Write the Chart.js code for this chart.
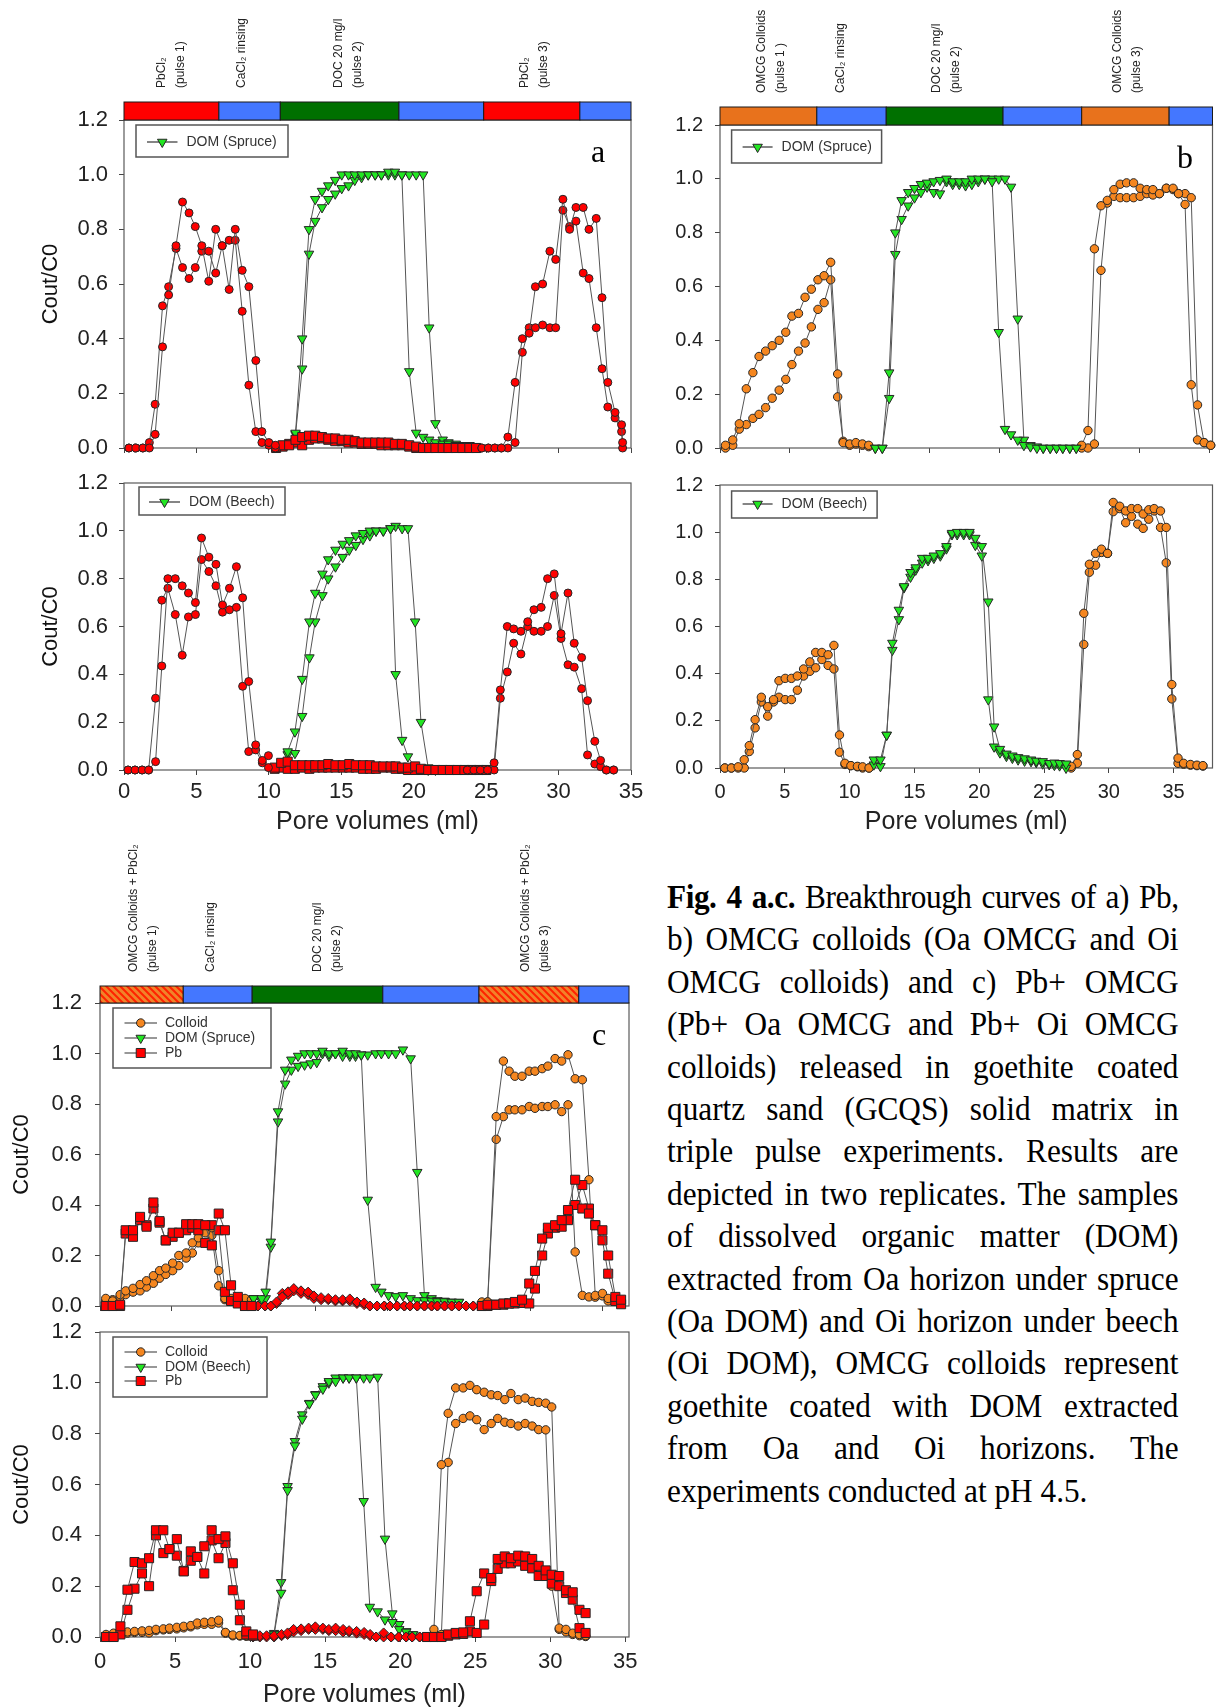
<!DOCTYPE html>
<html>
<head>
<meta charset="utf-8">
<script src="https://cdn.jsdelivr.net/npm/chart.js@4.4.0/dist/chart.umd.min.js"></script>
<style>
  html, body { margin: 0; padding: 0; background: #fff; }
  #page { position: relative; width: 1219px; height: 1708px; overflow: hidden; }
  canvas { position: absolute; }
  .tag { position: absolute; font-family: "Liberation Serif", "Times New Roman", serif; font-size: 32px; line-height: 32px; color: #000; }
  #caption { position: absolute; left: 667px; top: 876px; width: 556px; font-family: "Liberation Serif", "Times New Roman", serif;
             font-size: 34px; line-height: 42.4px; color: #000; transform: scaleX(0.92); transform-origin: 0 0; }
  #caption div { text-align: justify; text-align-last: justify; }
  #caption div.first { letter-spacing: -0.5px; white-space: nowrap; }
  #caption div.last { text-align-last: left; }
</style>
</head>
<body>
<div id="page">
  <canvas id="aTop"></canvas>
  <canvas id="aBot"></canvas>
  <canvas id="bTop"></canvas>
  <canvas id="bBot"></canvas>
  <canvas id="cTop"></canvas>
  <canvas id="cBot"></canvas>

  <div class="tag" style="left:591px;top:135px">a</div>
  <div class="tag" style="left:1177px;top:141px">b</div>
  <div class="tag" style="left:592px;top:1018px">c</div>

  <div id="caption">
    <div class="first"><b>Fig. 4 a.c.</b> Breakthrough curves of a) Pb,</div>
    <div>b) OMCG colloids (Oa OMCG and Oi</div>
    <div>OMCG colloids) and c) Pb+ OMCG</div>
    <div>(Pb+ Oa OMCG and Pb+ Oi OMCG</div>
    <div>colloids) released in goethite coated</div>
    <div>quartz sand (GCQS) solid matrix in</div>
    <div>triple pulse experiments. Results are</div>
    <div>depicted in two replicates. The samples</div>
    <div>of dissolved organic matter (DOM)</div>
    <div>extracted from Oa horizon under spruce</div>
    <div>(Oa DOM) and Oi horizon under beech</div>
    <div>(Oi DOM), OMCG colloids represent</div>
    <div>goethite coated with DOM extracted</div>
    <div>from Oa and Oi horizons. The</div>
    <div class="last">experiments conducted at pH 4.5.</div>
  </div>
</div>

<script>
// ---------- tick labels ----------
const xTicks = [0, 5, 10, 15, 20, 25, 30, 35];
const yTicks = [0, 0.2, 0.4, 0.6, 0.8, 1.0, 1.2];

// ---------- pulse sequence bars (pore volume limits) ----------
const phaseA = [0, 6.55, 10.79, 18.98, 24.83, 31.47, 35];
const phaseB = [0, 6.92, 11.88, 20.23, 25.85, 32.1, 35.2];
const phaseC = [0, 5.8, 10.6, 19.7, 26.4, 33.35, 36.85];
const kindsA = ['pb', 'rinse', 'doc', 'rinse', 'pb', 'rinse'];
const kindsB = ['col', 'rinse', 'doc', 'rinse', 'col', 'rinse'];
const kindsC = ['mix', 'rinse', 'doc', 'rinse', 'mix', 'rinse'];
const phaseLabelsA = [
  { x: 3.26, text: ['PbCl₂', '(pulse 1)'] },
  { x: 8.14, text: ['CaCl₂ rinsing'] },
  { x: 15.5, text: ['DOC 20 mg/l', '(pulse 2)'] },
  { x: 28.35, text: ['PbCl₂', '(pulse 3)'] }
];
const phaseLabelsB = [
  { x: 3.63, text: ['OMCG Colloids', '(pulse 1 )'] },
  { x: 8.64, text: ['CaCl₂ rinsing'] },
  { x: 16.15, text: ['DOC 20 mg/l', '(pulse 2)'] },
  { x: 29.08, text: ['OMCG Colloids', '(pulse 3)'] }
];
const phaseLabelsC = [
  { x: 3.0, text: ['OMCG Colloids + PbCl₂', '(pulse 1)'] },
  { x: 7.74, text: ['CaCl₂ rinsing'] },
  { x: 15.8, text: ['DOC 20 mg/l', '(pulse 2)'] },
  { x: 30.3, text: ['OMCG Colloids + PbCl₂', '(pulse 3)'] }
];

// ---------- a) Pb, DOM spruce ----------
const aTopPbX1 = [0.34,0.82,1.30,1.75,2.15,2.66,3.08,3.59,4.04,4.49,4.92,5.37,5.85,6.33,6.78,7.26,7.68,8.16,8.62,9.10,9.52,10.0,10.45];
const aTopPb1a = [0,0,0,0,0.05,0.37,0.56,0.74,0.90,0.86,0.81,0.74,0.61,0.80,0.74,0.58,0.80,0.65,0.59,0.32,0.06,0.02,0.01];
const aTopPb1b = [0,0,0,0.02,0.16,0.52,0.59,0.73,0.66,0.62,0.66,0.72,0.72,0.64,0.74,0.76,0.76,0.50,0.23,0.06,0.02,0.01,0];
const aTopPbX3 = [24.7,25.15,25.6,26.05,26.5,27.0,27.5,27.97,28.4,28.9,29.4,29.8,30.3,30.76,31.2,31.7,32.1,32.6,33.0,33.4,33.9,34.35,34.42];
const aTopPb3a = [0,0,0,0,0.04,0.24,0.40,0.42,0.59,0.60,0.72,0.69,0.91,0.80,0.88,0.88,0.80,0.84,0.55,0.24,0.13,0.085,0.02];
const aTopPb3b = [0,0,0,0,0,0.02,0.35,0.44,0.44,0.45,0.44,0.44,0.87,0.81,0.83,0.64,0.62,0.44,0.29,0.15,0.11,0.06,0];
const aTopSqX = [10.5,10.95,11.4,11.84,12.3,12.77,13.2,13.67,14.1,14.58,15.03,15.5,15.93,16.4,16.86,17.34,17.77,18.25,18.7,19.18,19.69,20.17,20.65,21.07,21.5,22.0,22.4,22.9,23.36,23.84,24.3];
const aTopSqA = [0.005,0.01,0.01,0.03,0.04,0.045,0.045,0.04,0.035,0.035,0.03,0.03,0.025,0.02,0.02,0.02,0.02,0.02,0.015,0.015,0.01,0.005,0,0,0,0,0,0,0,0,0];
const aTopSqB = [0,0.005,0.015,0.02,0.01,0.03,0.035,0.035,0.03,0.025,0.025,0.02,0.02,0.015,0.015,0.015,0.01,0.01,0.01,0.01,0.005,0,0,0,0,0,0,0,0,0,0];
const aTopDomX = [11.84,12.3,12.77,13.2,13.67,14.1,14.58,15.03,15.5,15.93,16.4,16.86,17.34,17.77,18.25,18.7,19.18,19.69,20.17,20.65,21.07,21.5,22.0,22.4,22.9,23.36,23.84];
const aTopDomA = [0.055,0.40,0.80,0.91,0.94,0.96,0.98,1.0,1.0,1.0,1.0,1.0,1.0,1.0,1.01,1.01,1.0,0.28,0.055,0.04,0.03,0.02,0.015,0.015,0.01,0.01,0.01];
const aTopDomB = [0.05,0.29,0.71,0.83,0.88,0.91,0.93,0.95,0.96,0.98,0.99,1.0,1.0,1.0,1.0,1.0,1.0,1.0,1.0,1.0,0.44,0.09,0.03,0.02,0.015,0.01,0.01];

// ---------- a) Pb, DOM beech ----------
const aBotPbX1 = [0.28,0.76,1.25,1.70,2.18,2.61,3.03,3.54,4.02,4.45,4.93,5.35,5.86,6.35,6.80,7.28,7.76,8.19,8.61,9.09,9.55,9.97];
const aBotPb1a = [0,0,0,0,0.035,0.435,0.80,0.80,0.77,0.74,0.70,0.97,0.89,0.86,0.69,0.76,0.85,0.72,0.37,0.105,0.04,0.06];
const aBotPb1b = [0,0,0,0,0.30,0.71,0.76,0.65,0.48,0.64,0.65,0.88,0.83,0.77,0.66,0.67,0.68,0.35,0.077,0.084,0.03,0.01];
const aBotSqX = [10.4,10.85,11.3,11.8,12.3,12.8,13.2,13.7,14.1,14.6,15.1,15.55,16.0,16.5,16.97,17.4,17.9,18.4,18.75,19.2,19.6,20.1,20.5,21.0,21.5,22.0,22.5,23.0,23.5,24.0,24.5,25.0];
const aBotSqA = [0.01,0.03,0.035,0.02,0.02,0.02,0.02,0.02,0.025,0.02,0.02,0.025,0.02,0.02,0.02,0.015,0.015,0.015,0.015,0.01,0.01,0.015,0.005,0,0,0,0,0,0,0,0,0];
const aBotSqB = [0.005,0.01,0.005,0.005,0.01,0.005,0.01,0.01,0.01,0.01,0.01,0.01,0.01,0.005,0.005,0.005,0.01,0.01,0.005,0.005,0,0,0,0,0,0,0,0,0,0,0,0];
const aBotPbX3 = [23.7,24.15,24.6,25.1,25.55,25.98,26.46,26.9,27.4,27.87,28.3,28.8,29.24,29.7,30.17,30.65,31.08,31.59,32.0,32.5,32.9,33.3,33.8];
const aBotPb3a = [0,0,0,0,0.03,0.335,0.60,0.59,0.58,0.62,0.67,0.68,0.80,0.82,0.57,0.74,0.53,0.47,0.29,0.12,0.04,0,0];
const aBotPb3b = [0,0,0,0,0,0.30,0.41,0.53,0.485,0.60,0.58,0.58,0.60,0.73,0.55,0.44,0.43,0.34,0.063,0.025,0.014,0,0];
const aBotDomX = [11.3,11.8,12.3,12.8,13.2,13.7,14.1,14.6,15.1,15.55,16.0,16.5,16.97,17.4,17.9,18.4,18.75,19.2,19.6,20.1,20.5,21.0,21.5];
const aBotDomA = [0.077,0.16,0.38,0.62,0.74,0.82,0.88,0.92,0.945,0.96,0.98,0.99,1.0,1.0,1.0,1.01,0.40,0.125,0.056,0.01,0.005,0,0];
const aBotDomB = [0.065,0.07,0.225,0.47,0.62,0.73,0.80,0.85,0.89,0.92,0.94,0.965,0.98,1.0,1.0,1.01,1.02,1.01,1.01,0.62,0.20,0.01,0.005];

// ---------- b) OMCG colloids, DOM spruce ----------
const bTopColX1 = [0.39,0.91,1.38,1.88,2.35,2.79,3.26,3.73,4.23,4.70,5.14,5.61,6.08,6.53,7.0,7.44,7.91,8.41,8.80,9.27,9.71,10.18,10.63];
const bTopCol1a = [0.01,0.03,0.09,0.22,0.28,0.34,0.36,0.38,0.40,0.43,0.49,0.50,0.56,0.59,0.625,0.64,0.69,0.275,0.02,0.015,0.02,0.015,0.01];
const bTopCol1b = [0,0.01,0.07,0.087,0.11,0.125,0.15,0.185,0.215,0.255,0.31,0.36,0.39,0.45,0.515,0.54,0.625,0.19,0.025,0.01,0.015,0.01,0.005];
const bTopDomX = [11.1,11.6,12.09,12.53,12.98,13.45,13.9,14.36,14.8,15.27,15.72,16.19,16.63,17.1,17.55,18.0,18.46,18.93,19.45,19.92,20.37,20.8,21.28,21.72,22.19,22.65,23.1,23.6,24.05,24.5,25.0,25.46];
const bTopDomA = [0,0,0.28,0.80,0.92,0.95,0.965,0.98,0.985,0.99,0.995,1.0,0.99,0.99,0.99,1.0,1.0,1.0,0.99,0.43,0.07,0.05,0.03,0.01,0.005,0,0,0,0,0,0,0];
const bTopDomB = [0,0,0.185,0.72,0.85,0.90,0.93,0.95,0.97,0.95,0.945,0.99,0.98,0.98,0.975,0.98,0.99,1.0,1.0,1.0,1.0,0.97,0.48,0.03,0.01,0.005,0,0,0,0,0,0];
const bTopColX3 = [25.85,26.3,26.76,27.23,27.68,28.15,28.6,29.06,29.56,30.03,30.5,30.94,31.41,31.9,32.38,32.77,33.24,33.68,34.13,34.6,35.07];
const bTopCol3a = [0.01,0.065,0.74,0.90,0.92,0.96,0.98,0.985,0.985,0.965,0.96,0.96,0.945,0.965,0.965,0.945,0.905,0.235,0.03,0.02,0.01];
const bTopCol3b = [0,0,0.015,0.66,0.91,0.935,0.93,0.93,0.93,0.935,0.945,0.94,0.945,0.965,0.96,0.945,0.945,0.93,0.16,0.02,0.01];

// ---------- b) OMCG colloids, DOM beech ----------
const bBotColX1 = [0.37,0.88,1.4,1.87,2.26,2.71,3.19,3.68,4.13,4.55,5.03,5.51,5.97,6.45,6.93,7.38,7.86,8.34,8.79,9.22,9.64,10.1,10.6,11.0,11.5];
const bBotCol1a = [0,0,0.005,0.035,0.095,0.205,0.30,0.26,0.29,0.37,0.38,0.38,0.39,0.42,0.45,0.49,0.49,0.48,0.52,0.14,0.02,0.01,0.007,0.005,0];
const bBotCol1b = [0,0,0,0,0.07,0.17,0.28,0.22,0.28,0.30,0.29,0.29,0.33,0.39,0.41,0.425,0.46,0.435,0.42,0.067,0.015,0.01,0.005,0,0];
const bBotDomX = [11.87,12.38,12.86,13.3,13.8,14.2,14.7,15.1,15.6,16.05,16.5,17.0,17.47,17.9,18.3,18.8,19.25,19.7,20.2,20.7,21.15,21.6,22.1,22.56,23.0,23.5,24.0,24.4,24.9,25.4,25.8,26.2,26.7];
const bBotDomA = [0.035,0.035,0.14,0.53,0.67,0.77,0.83,0.85,0.89,0.89,0.90,0.91,0.94,0.996,1.0,1.0,1.0,0.975,0.94,0.705,0.175,0.08,0.06,0.052,0.045,0.04,0.035,0.03,0.028,0.02,0.022,0.02,0.018];
const bBotDomB = [0.014,0.007,0.14,0.50,0.63,0.765,0.81,0.84,0.87,0.88,0.89,0.90,0.93,0.99,0.99,0.99,0.99,0.945,0.90,0.29,0.09,0.065,0.05,0.042,0.035,0.03,0.028,0.024,0.018,0.015,0.012,0.01,0];
const bBotColX3 = [27.1,27.57,28.07,28.5,28.98,29.43,29.9,30.34,30.84,31.3,31.75,32.23,32.65,33.08,33.5,33.99,34.43,34.86,35.34,35.77,36.3,36.8,37.26];
const bBotCol3a = [0.007,0.057,0.656,0.864,0.91,0.928,0.91,1.126,1.11,1.09,1.10,1.10,1.077,1.095,1.10,1.09,1.02,0.354,0.042,0.02,0.015,0.012,0.01];
const bBotCol3b = [0,0.02,0.524,0.83,0.86,0.914,0.91,1.087,1.10,1.04,1.067,1.034,1.016,1.055,1.09,1.02,0.87,0.293,0.02,0.016,0.012,0.01,0.008];

// ---------- c) Pb + OMCG, DOM spruce ----------
const cTopX1 = [0.4,0.88,1.4,1.79,2.3,2.79,3.24,3.72,4.15,4.58,5.06,5.49,6.0,6.43,6.85,7.33,7.79,8.27,8.7,9.13,9.6,10.1,10.55];
const cTopPb1a = [0,0,0.005,0.30,0.30,0.353,0.314,0.41,0.336,0.26,0.29,0.29,0.324,0.324,0.324,0.32,0.24,0.366,0.30,0.082,0.036,0,0];
const cTopPb1b = [0,0,0,0.287,0.274,0.34,0.32,0.386,0.33,0.26,0.274,0.29,0.30,0.31,0.30,0.25,0.32,0.30,0.056,0.02,0.01,0,0];
const cTopCol1a = [0.03,0.02,0.045,0.06,0.07,0.085,0.10,0.12,0.14,0.15,0.17,0.20,0.21,0.25,0.27,0.29,0.31,0.14,0.03,0.03,0.03,0.03,0.025];
const cTopCol1b = [0.02,0.025,0.035,0.045,0.055,0.06,0.075,0.09,0.11,0.125,0.14,0.16,0.19,0.21,0.25,0.25,0.28,0.08,0.025,0.025,0.025,0.02,0.015];
const cTopDiaX = [10.1,10.55,11.0,11.5,11.9,12.3,12.7,13.1,13.5,14.0,14.5,14.9,15.4,15.9,16.4,16.9,17.4,17.9,18.4,18.8,19.3,19.8,20.2,20.7,21.2,21.6,22.1,22.6,23.1,23.5,24.0,24.5,25.0,25.5,26.0];
const cTopDiaA = [0,0,0,0,0,0.016,0.036,0.056,0.069,0.06,0.055,0.04,0.033,0.03,0.025,0.025,0.028,0.016,0.012,0,0,0,0,0,0,0,0,0,0,0,0,0,0,0,0];
const cTopDiaB = [0,0,0,0,0,0.01,0.05,0.045,0.06,0.05,0.045,0.03,0.025,0.025,0.02,0.02,0.02,0.01,0.005,0,0,0,0,0,0,0,0,0,0,0,0,0,0,0,0];
const cTopDomX = [10.7,11.26,11.54,11.9,12.4,12.9,13.33,13.8,14.25,14.67,15.1,15.5,15.95,16.4,16.9,17.4,17.8,18.2,18.65,19.2,19.6,20.1,20.6,21.1,21.64,22.1,22.6,23.1,23.5,24.0,24.5,25.0];
const cTopDomA = [0.03,0.03,0.056,0.254,0.77,0.935,0.975,0.99,1.0,1.0,1.0,1.01,1.0,1.0,1.01,1.0,1.0,0.995,0.42,0.075,0.056,0.042,0.038,0.042,0.03,0.022,0.022,0.02,0.018,0.018,0.016,0.016];
const cTopDomB = [0.03,0.02,0.03,0.234,0.73,0.88,0.935,0.95,0.955,0.96,0.965,1.0,0.99,1.0,0.99,0.99,0.99,0.995,0.995,1.0,1.0,1.0,1.0,1.015,0.98,0.53,0.042,0.03,0.022,0.02,0.016,0.015];
const cTopX3 = [26.6,27.0,27.6,28.1,28.5,28.9,29.4,29.9,30.3,30.8,31.2,31.7,32.16,32.6,33.1,33.6,34.06,34.5,35.0,35.4,35.9,36.3];
const cTopPb3a = [0,0.005,0.005,0.01,0.01,0.016,0.025,0.089,0.139,0.267,0.31,0.32,0.34,0.38,0.5,0.386,0.366,0.32,0.30,0.20,0.036,0.025];
const cTopPb3b = [0,0,0.005,0.005,0.01,0.01,0.012,0.01,0.069,0.20,0.287,0.31,0.314,0.34,0.40,0.479,0.386,0.32,0.26,0.128,0.02,0.007];
const cTopCol3a = [0.016,0.016,0.75,0.97,0.93,0.91,0.91,0.93,0.93,0.94,0.95,0.98,0.97,0.995,0.90,0.896,0.50,0.042,0.05,0.03,0.025,0.02];
const cTopCol3b = [0.01,0.016,0.66,0.75,0.777,0.777,0.777,0.79,0.783,0.79,0.79,0.797,0.77,0.797,0.214,0.042,0.036,0.035,0.04,0.02,0.02,0.015];

// ---------- c) Pb + OMCG, DOM beech ----------
const cBotX1 = [0.4,0.9,1.36,1.83,2.3,2.8,3.27,3.73,4.22,4.63,5.12,5.58,6.05,6.48,6.95,7.44,7.9,8.36,8.85,9.32,9.75,10.2];
const cBotPb1a = [0,0,0.042,0.186,0.295,0.29,0.31,0.42,0.42,0.346,0.385,0.258,0.337,0.315,0.357,0.42,0.385,0.396,0.29,0.127,0.022,0.01];
const cBotPb1b = [0,0,0.01,0.107,0.19,0.25,0.2,0.40,0.33,0.346,0.32,0.26,0.30,0.315,0.25,0.38,0.31,0.37,0.184,0.066,0.01,0.005];
const cBotCol1a = [0.01,0.015,0.018,0.02,0.022,0.024,0.026,0.03,0.032,0.035,0.038,0.042,0.045,0.055,0.058,0.06,0.066,0.018,0.008,0.006,0.005,0.003];
const cBotCol1b = [0.005,0.01,0.012,0.015,0.018,0.018,0.016,0.025,0.028,0.03,0.032,0.036,0.04,0.048,0.05,0.05,0.055,0.015,0.005,0.004,0.003,0.002];
const cBotDiaX = [10.2,10.65,11.1,11.6,12.1,12.5,12.9,13.4,13.9,14.35,14.85,15.25,15.7,16.2,16.6,17.1,17.6,18.0,18.4,18.9,19.4,19.9,20.4,20.8,21.3,21.8];
const cBotDiaA = [0.005,0.005,0.005,0.005,0.01,0.016,0.03,0.032,0.035,0.04,0.035,0.03,0.035,0.03,0.025,0.022,0.018,0.01,0,0.016,0,0,0,0,0,0];
const cBotDiaB = [0,0,0,0,0.005,0.01,0.02,0.025,0.03,0.03,0.03,0.025,0.025,0.02,0.02,0.015,0.01,0.005,0,0,0,0,0,0,0,0];
const cBotDomX = [11.6,12.07,12.5,12.99,13.48,13.95,14.36,14.85,15.25,15.7,16.2,16.6,17.08,17.57,17.98,18.5,18.99,19.48,19.94,20.4,20.85];
const cBotDomA = [0.01,0.173,0.577,0.753,0.858,0.918,0.953,0.976,1.006,1.006,1.02,1.02,1.02,0.534,0.118,0.10,0.068,0.058,0.03,0.02,0.01];
const cBotDomB = [0.015,0.215,0.593,0.77,0.875,0.92,0.955,0.986,1.0,1.02,1.02,1.02,1.02,1.02,1.02,1.023,0.386,0.092,0.05,0.022,0.01];
const cBotX3 = [21.8,22.25,22.75,23.2,23.7,24.2,24.65,25.1,25.6,26.07,26.5,26.97,27.38,27.87,28.33,28.8,29.23,29.7,30.1,30.6,31.05,31.5,31.95,32.36];
const cBotPb3a = [0,0,0,0.01,0.016,0.018,0.062,0.18,0.25,0.232,0.307,0.317,0.31,0.32,0.317,0.307,0.28,0.262,0.245,0.24,0.184,0.176,0.107,0.094];
const cBotPb3b = [0,0,0,0.005,0.01,0.012,0.022,0.016,0.049,0.22,0.268,0.29,0.29,0.297,0.28,0.27,0.24,0.24,0.21,0.20,0.173,0.147,0.035,0.016];
const cBotCol3a = [0,0.03,0.678,0.88,0.98,0.98,0.99,0.973,0.963,0.953,0.95,0.934,0.958,0.934,0.94,0.927,0.923,0.92,0.905,0.035,0.03,0.015,0.01,0.005];
const cBotCol3b = [0,0.005,0.01,0.687,0.84,0.86,0.87,0.855,0.816,0.84,0.86,0.845,0.84,0.83,0.84,0.83,0.816,0.815,0.2,0.03,0.02,0.01,0.005,0.002];

// ---------- styles ----------
const FONT = '"Liberation Sans", Arial, sans-serif';
Chart.defaults.font.family = FONT;
Chart.defaults.color = '#222';

const markers = {
  pb:      { pointStyle: 'circle',   pointRadius: 4,   pointRotation: 0,   pointBackgroundColor: '#ff0000' },
  pbSq:    { pointStyle: 'rect',     pointRadius: 6.4, pointRotation: 0,   pointBackgroundColor: '#ff0000' },
  pbDia:   { pointStyle: 'rectRot',  pointRadius: 5,   pointRotation: 0,   pointBackgroundColor: '#ff0000' },
  dom:     { pointStyle: 'triangle', pointRadius: 5.5, pointRotation: 180, pointBackgroundColor: '#22e622' },
  colloid: { pointStyle: 'circle',   pointRadius: 4.2, pointRotation: 0,   pointBackgroundColor: '#f5861f' }
};
const phaseFill = { pb: '#ff0000', rinse: '#4477ff', doc: '#007000', col: '#e8721c' };

function series(xs, ys, kind) {
  const m = markers[kind];
  return Object.assign({
    data: xs.map((x, i) => ({ x: x, y: ys[i] })),
    showLine: true, borderColor: '#555', borderWidth: 1,
    pointBorderColor: '#262626', pointBorderWidth: 1,
    pointHoverRadius: m.pointRadius, clip: false
  }, m);
}

function hatch(ctx) {
  const c = document.createElement('canvas');
  c.width = 7; c.height = 7;
  const g = c.getContext('2d');
  g.fillStyle = '#f0842a';
  g.fillRect(0, 0, 7, 7);
  g.strokeStyle = '#ff2200';
  g.lineWidth = 2;
  g.beginPath();
  g.moveTo(-1, -1); g.lineTo(8, 8);
  g.moveTo(-1, 6); g.lineTo(1, 8);
  g.moveTo(6, -1); g.lineTo(8, 1);
  g.stroke();
  return ctx.createPattern(c, 'repeat');
}

function legendMarker(ctx, kind, x, y) {
  const m = markers[kind];
  const r = m.pointRadius;
  ctx.fillStyle = m.pointBackgroundColor;
  ctx.strokeStyle = '#262626';
  ctx.lineWidth = 1;
  ctx.beginPath();
  if (m.pointStyle === 'circle') {
    ctx.arc(x, y, r, 0, Math.PI * 2);
  } else if (m.pointStyle === 'triangle') {
    ctx.moveTo(x, y + r);
    ctx.lineTo(x - r * 0.866, y - r / 2);
    ctx.lineTo(x + r * 0.866, y - r / 2);
    ctx.closePath();
  } else {
    const h = r * Math.SQRT1_2;
    ctx.rect(x - h, y - h, 2 * h, 2 * h);
  }
  ctx.fill();
  ctx.stroke();
}

// frame, legend box, pulse bar and its labels
function makeDecor(opt) {
  return {
    id: 'panelDecor',
    beforeDatasetsDraw(chart) {
      const { ctx, chartArea: a } = chart;
      ctx.save();
      ctx.strokeStyle = '#5a5a5a';
      ctx.lineWidth = 1.2;
      ctx.strokeRect(a.left, a.top, a.right - a.left, a.bottom - a.top);
      ctx.restore();
    },
    afterDatasetsDraw(chart) {
      const lg = opt.legend;
      if (!lg) return;
      const { ctx, chartArea: a } = chart;
      const bx = a.left + lg.dx, by = a.top + lg.dy;
      ctx.save();
      ctx.fillStyle = '#fff';
      ctx.fillRect(bx, by, lg.w, lg.h);
      ctx.strokeStyle = '#555';
      ctx.lineWidth = 1.5;
      ctx.strokeRect(bx, by, lg.w, lg.h);
      lg.rows.forEach(row => {
        const y = by + row.y;
        ctx.strokeStyle = '#333';
        ctx.lineWidth = 1.2;
        ctx.beginPath();
        ctx.moveTo(bx + lg.s0, y);
        ctx.lineTo(bx + lg.s1, y);
        ctx.stroke();
        legendMarker(ctx, row.kind, bx + (lg.s0 + lg.s1) / 2, y);
        ctx.fillStyle = '#333';
        ctx.font = '14px ' + FONT;
        ctx.textAlign = 'left';
        ctx.textBaseline = 'middle';
        ctx.fillText(row.label, bx + lg.tx, y + 0.5);
      });
      ctx.restore();
    },
    afterDraw(chart) {
      const bar = opt.bar;
      if (!bar) return;
      const { ctx, chartArea: a, scales: { x } } = chart;
      const top = a.top - bar.h;
      ctx.save();
      for (let i = 0; i < bar.kinds.length; i++) {
        const x0 = x.getPixelForValue(bar.bounds[i]);
        const x1 = x.getPixelForValue(bar.bounds[i + 1]);
        ctx.fillStyle = bar.kinds[i] === 'mix' ? hatch(ctx) : phaseFill[bar.kinds[i]];
        ctx.fillRect(x0, top, x1 - x0, bar.h);
        ctx.strokeStyle = '#1a1a1a';
        ctx.lineWidth = 1;
        ctx.strokeRect(x0, top, x1 - x0, bar.h);
      }
      ctx.fillStyle = '#222';
      ctx.font = '12px ' + FONT;
      ctx.textAlign = 'left';
      ctx.textBaseline = 'middle';
      bar.labels.forEach(l => {
        const px = x.getPixelForValue(l.x);
        const n = l.text.length;
        l.text.forEach((line, j) => {
          ctx.save();
          ctx.translate(px + (j - (n - 1) / 2) * 19, top - 14);
          ctx.rotate(-Math.PI / 2);
          ctx.fillText(line, 0, 0);
          ctx.restore();
        });
      });
      ctx.restore();
    }
  };
}

function buildPanel(id, box, pad, opt) {
  const canvas = document.getElementById(id);
  canvas.width = box.w;
  canvas.height = box.h;
  canvas.style.left = box.x + 'px';
  canvas.style.top = box.y + 'px';
  canvas.style.width = box.w + 'px';
  canvas.style.height = box.h + 'px';

  new Chart(canvas, {
    type: 'scatter',
    data: { datasets: opt.datasets },
    options: {
      responsive: false,
      animation: false,
      events: [],
      layout: { padding: { left: 0, top: pad.top, right: pad.right, bottom: 0 } },
      scales: {
        x: {
          type: 'linear', min: 0, max: opt.xMax,
          afterBuildTicks: s => { s.ticks = xTicks.map(v => ({ value: v })); },
          afterFit: s => { s.height = pad.bottom; },
          grid: { drawOnChartArea: false, drawTicks: true, tickLength: 5, color: '#444' },
          border: { display: false },
          ticks: {
            display: !!opt.xTitle, font: { size: opt.tickSize }, color: '#222',
            padding: opt.xTitle ? opt.xTitle.tickPad : 4, maxRotation: 0,
            callback: v => String(v)
          },
          title: opt.xTitle
            ? { display: true, text: 'Pore volumes (ml)', color: '#222',
                font: { size: 25, lineHeight: 1 }, padding: { top: 0, bottom: opt.xTitle.pad } }
            : { display: false }
        },
        y: {
          type: 'linear', min: 0, max: 1.2,
          afterBuildTicks: s => { s.ticks = yTicks.map(v => ({ value: v })); },
          afterFit: s => { s.width = pad.left; },
          grid: { drawOnChartArea: false, drawTicks: true, tickLength: 5, color: '#444' },
          border: { display: false },
          ticks: { font: { size: opt.tickSize }, color: '#222', padding: opt.yTickPad, callback: v => Number(v).toFixed(1) },
          title: opt.yTitle
            ? { display: true, text: 'Cout/C0', color: '#111', font: { size: 22 }, padding: { top: opt.yTitle, bottom: 0 } }
            : { display: false }
        }
      },
      plugins: { legend: { display: false }, tooltip: { enabled: false } }
    },
    plugins: [makeDecor(opt)]
  });
}

// ---------- panel a ----------
buildPanel('aTop', { x: 10, y: 15, w: 636, h: 461 }, { left: 114, top: 105, right: 15, bottom: 28 }, {
  xMax: 35, tickSize: 22, yTickPad: 11, yTitle: 27.8,
  bar: { h: 18, bounds: phaseA, kinds: kindsA, labels: phaseLabelsA },
  legend: { dx: 12, dy: 5, w: 152, h: 32, s0: 11, s1: 41.5, tx: 50.5, rows: [{ y: 17, label: 'DOM (Spruce)', kind: 'dom' }] },
  datasets: [
    series(aTopPbX1, aTopPb1a, 'pb'), series(aTopPbX1, aTopPb1b, 'pb'),
    series(aTopPbX3, aTopPb3a, 'pb'), series(aTopPbX3, aTopPb3b, 'pb'),
    series(aTopSqX, aTopSqA, 'pbSq'), series(aTopSqX, aTopSqB, 'pbSq'),
    series(aTopDomX, aTopDomA, 'dom'), series(aTopDomX, aTopDomB, 'dom')
  ]
});
buildPanel('aBot', { x: 10, y: 455, w: 641, h: 383 }, { left: 114, top: 28, right: 20, bottom: 68 }, {
  xMax: 35, tickSize: 22, yTickPad: 11, yTitle: 27.8,
  xTitle: { pad: 3.5, tickPad: 3.8 },
  legend: { dx: 15, dy: 4, w: 146, h: 28, s0: 10, s1: 41, tx: 50, rows: [{ y: 15, label: 'DOM (Beech)', kind: 'dom' }] },
  datasets: [
    series(aBotPbX1, aBotPb1a, 'pb'), series(aBotPbX1, aBotPb1b, 'pb'),
    series(aBotPbX3, aBotPb3a, 'pb'), series(aBotPbX3, aBotPb3b, 'pb'),
    series(aBotSqX, aBotSqA, 'pbSq'), series(aBotSqX, aBotSqB, 'pbSq'),
    series(aBotDomX, aBotDomA, 'dom'), series(aBotDomX, aBotDomB, 'dom')
  ]
});

// ---------- panel b ----------
buildPanel('bTop', { x: 650, y: 5, w: 569, h: 471 }, { left: 70, top: 120, right: 2, bottom: 28 }, {
  xMax: 35.2, tickSize: 20, yTickPad: 12,
  bar: { h: 18, bounds: phaseB, kinds: kindsB, labels: phaseLabelsB },
  legend: { dx: 11.6, dy: 5, w: 150, h: 33, s0: 11, s1: 41, tx: 50, rows: [{ y: 17, label: 'DOM (Spruce)', kind: 'dom' }] },
  datasets: [
    series(bTopDomX, bTopDomA, 'dom'), series(bTopDomX, bTopDomB, 'dom'),
    series(bTopColX1, bTopCol1a, 'colloid'), series(bTopColX1, bTopCol1b, 'colloid'),
    series(bTopColX3, bTopCol3a, 'colloid'), series(bTopColX3, bTopCol3b, 'colloid')
  ]
});
buildPanel('bBot', { x: 650, y: 457, w: 569, h: 383 }, { left: 70, top: 28, right: 2, bottom: 72 }, {
  xMax: 38, tickSize: 20, yTickPad: 12,
  xTitle: { pad: 5.5, tickPad: 7 },
  legend: { dx: 11.6, dy: 6, w: 145.5, h: 27, s0: 11, s1: 41, tx: 50, rows: [{ y: 13, label: 'DOM (Beech)', kind: 'dom' }] },
  datasets: [
    series(bBotDomX, bBotDomA, 'dom'), series(bBotDomX, bBotDomB, 'dom'),
    series(bBotColX1, bBotCol1a, 'colloid'), series(bBotColX1, bBotCol1b, 'colloid'),
    series(bBotColX3, bBotCol3a, 'colloid'), series(bBotColX3, bBotCol3b, 'colloid')
  ]
});

// ---------- panel c ----------
buildPanel('cTop', { x: 0, y: 838, w: 644, h: 496 }, { left: 100, top: 165, right: 15, bottom: 28 }, {
  xMax: 36.85, tickSize: 22, yTickPad: 13, yTitle: 9.2,
  bar: { h: 17, bounds: phaseC, kinds: kindsC, labels: phaseLabelsC },
  legend: { dx: 13, dy: 5, w: 158, h: 60, s0: 11.5, s1: 44, tx: 52, rows: [
    { y: 15, label: 'Colloid', kind: 'colloid' },
    { y: 30, label: 'DOM (Spruce)', kind: 'dom' },
    { y: 45, label: 'Pb', kind: 'pbSq' }
  ] },
  datasets: [
    series(cTopX1, cTopPb1a, 'pbSq'), series(cTopX1, cTopPb1b, 'pbSq'),
    series(cTopX3, cTopPb3a, 'pbSq'), series(cTopX3, cTopPb3b, 'pbSq'),
    series(cTopDiaX, cTopDiaA, 'pbDia'), series(cTopDiaX, cTopDiaB, 'pbDia'),
    series(cTopDomX, cTopDomA, 'dom'), series(cTopDomX, cTopDomB, 'dom'),
    series(cTopX1, cTopCol1a, 'colloid'), series(cTopX1, cTopCol1b, 'colloid'),
    series(cTopX3, cTopCol3a, 'colloid'), series(cTopX3, cTopCol3b, 'colloid')
  ]
});
buildPanel('cBot', { x: 0, y: 1304, w: 649, h: 404 }, { left: 100, top: 28, right: 20, bottom: 71 }, {
  xMax: 35.25, tickSize: 22, yTickPad: 13, yTitle: 9.2,
  xTitle: { pad: 0.5, tickPad: 6.8 },
  legend: { dx: 13, dy: 5, w: 154, h: 60, s0: 11.5, s1: 44, tx: 52, rows: [
    { y: 15, label: 'Colloid', kind: 'colloid' },
    { y: 30, label: 'DOM (Beech)', kind: 'dom' },
    { y: 44, label: 'Pb', kind: 'pbSq' }
  ] },
  datasets: [
    series(cBotX1, cBotPb1a, 'pbSq'), series(cBotX1, cBotPb1b, 'pbSq'),
    series(cBotX3, cBotPb3a, 'pbSq'), series(cBotX3, cBotPb3b, 'pbSq'),
    series(cBotDiaX, cBotDiaA, 'pbDia'), series(cBotDiaX, cBotDiaB, 'pbDia'),
    series(cBotDomX, cBotDomA, 'dom'), series(cBotDomX, cBotDomB, 'dom'),
    series(cBotX1, cBotCol1a, 'colloid'), series(cBotX1, cBotCol1b, 'colloid'),
    series(cBotX3, cBotCol3a, 'colloid'), series(cBotX3, cBotCol3b, 'colloid')
  ]
});
</script>
</body>
</html>
